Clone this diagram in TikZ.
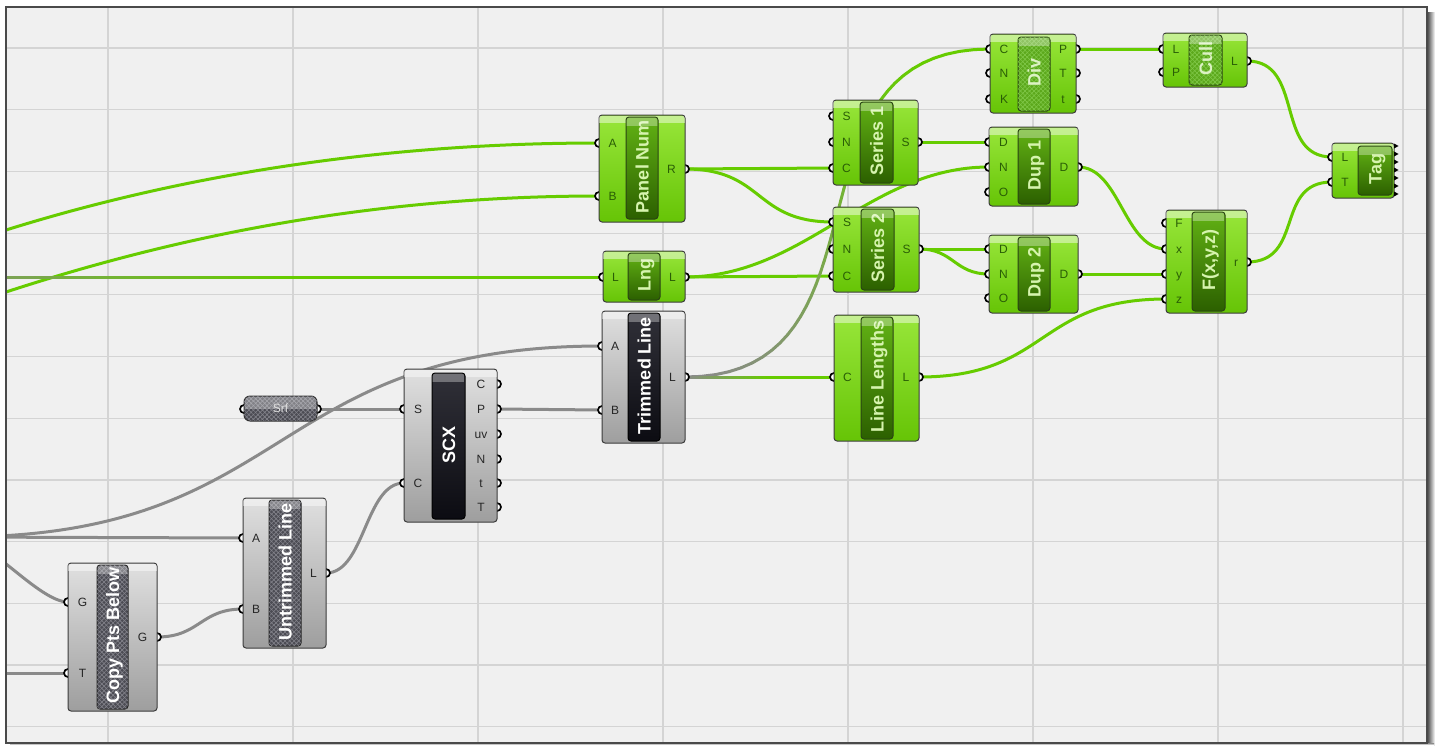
\documentclass[tikz,border=0pt]{standalone}
\usepackage{fontspec}
\setmainfont{Liberation Sans}
\usetikzlibrary{patterns.meta}
\definecolor{bg}{HTML}{F0F0F0}
\definecolor{gridc}{HTML}{D4D4D4}
\definecolor{framec}{HTML}{4A4A4A}
\definecolor{wireg}{HTML}{66CC00}
\definecolor{wiregray}{HTML}{8A8A8A}
\definecolor{gtop}{HTML}{98E63A}
\definecolor{gbot}{HTML}{66C406}
\definecolor{ytop}{HTML}{E0E0E0}
\definecolor{ybot}{HTML}{9E9E9E}
\definecolor{boxline}{HTML}{3C3C3C}
\definecolor{gbtop}{HTML}{62B214}
\definecolor{gbbot}{HTML}{2C6000}
\definecolor{gbline}{HTML}{2A4414}
\definecolor{ktop}{HTML}{303038}
\definecolor{kbot}{HTML}{0C0C12}
\definecolor{hbase}{HTML}{4C4C54}
\definecolor{hline}{HTML}{84848C}
\definecolor{ghbase}{HTML}{5CA81C}
\definecolor{ghline}{HTML}{80C848}
\definecolor{glabc}{HTML}{2A5E06}
\definecolor{ylabc}{HTML}{262626}
\definecolor{gtext}{HTML}{D6F4AE}
\definecolor{hgtext}{HTML}{DCF2C4}
\tikzset{
 wire/.style={line width=3pt,line cap=round},
 gw/.style={wire,draw=wireg},
 yw/.style={wire,draw=wiregray},
 port/.style={circle,draw=black,line width=1.7pt,fill=white,inner sep=0pt,minimum size=8pt},
 compbase/.style={draw=boxline,line width=1pt,rounded corners=3pt,inner sep=0pt},
 boxg/.style={compbase,top color=gtop,bottom color=gbot},
 boxy/.style={compbase,top color=ytop,bottom color=ybot},
 barg/.style={compbase,draw=gbline,top color=gbtop,bottom color=gbbot},
 bark/.style={compbase,draw=black,top color=ktop,bottom color=kbot},
 bary/.style={compbase,draw=black!85,preaction={fill=hbase},
   pattern={Lines[angle=45,distance=3.2pt,line width=0.6pt]},pattern color=hline,
   postaction={pattern={Lines[angle=-45,distance=3.2pt,line width=0.6pt]},pattern color=hline}},
 barh/.style={compbase,draw=gbline,preaction={fill=ghbase},
   pattern={Lines[angle=45,distance=3.2pt,line width=0.6pt]},pattern color=ghline,
   postaction={pattern={Lines[angle=-45,distance=3.2pt,line width=0.6pt]},pattern color=ghline}},
 srfbox/.style={draw=black!80,line width=1pt,rounded corners=6pt,inner sep=0pt,preaction={fill=hbase},
   pattern={Lines[angle=45,distance=3.2pt,line width=0.6pt]},pattern color=hline,
   postaction={pattern={Lines[angle=-45,distance=3.2pt,line width=0.6pt]},pattern color=hline}},
 plab/.style={font=\fontsize{12}{14}\selectfont,inner sep=0pt,text height=8.6pt,text depth=0pt},
 glab/.style={plab,text=glabc},
 ylab/.style={plab,text=ylabc},
 title/.style={font=\bfseries\fontsize{18}{20}\selectfont,rotate=90,inner sep=0pt,text height=13pt,text depth=0pt},
}
\newcommand\band[4]{%
 \begin{scope}\clip[rounded corners=3pt] (#1,#2) rectangle (#3,#4);
 \fill[white,opacity=0.45] (#1,#2+0.6) rectangle (#3,#2+8);\end{scope}}
\newcommand\bartext[7]{%
 \begin{scope}\clip[rounded corners=2.5pt] (#2+0.6,#3+0.6) rectangle (#4-0.6,#5-0.6);
 \node[title,text=#7] (#1) at ({(#2+#4)/2},{(#3+#5)/2-1.5}) {#6};
 \fill[white,opacity=0.32] (#2,#3) rectangle (#4,#3+9);
 \end{scope}}
\newcommand\comp[6]{\node[#2,minimum width={#5-#3},minimum height={#6-#4}] (#1) at ({(#3+#5)/2},{(#4+#6)/2}) {};\band{#3}{#4}{#5}{#6}}
\newcommand\cbar[8]{\node[#2,minimum width={#5-#3},minimum height={#6-#4}] (#1) at ({(#3+#5)/2},{(#4+#6)/2}) {};\bartext{#1-t}{#3}{#4}{#5}{#6}{#7}{#8}}
\newcommand\gradwire[4]{%
 \foreach \k in {0,...,40}{\pgfmathsetmacro\gwtk{\k/40}\path #2 coordinate[pos=\gwtk] (#1\k);}%
 \foreach \k in {0,...,39}{%
   \pgfmathtruncatemacro\gwkn{\k+1}%
   \pgfmathtruncatemacro\gwpc{min(100,#3+(100-#3)*\k/(40*#4))}%
   \draw[wire,draw=wireg!\gwpc!wiregray] (#1\k) -- (#1\gwkn);}}
\begin{document}
\begin{tikzpicture}[x=1pt,y=-1pt]
\useasboundingbox (0,0) rectangle (1437,745);
\fill[white] (0,0) rectangle (1437,745);
\shade[left color=black!65,right color=white] (1428,12) rectangle (1435,745);
\shade[top color=black!45,bottom color=white] (10,743) rectangle (1434,745);
\fill[bg] (6,7) rectangle (1427,743);
% ports
\coordinate (pn-A) at (599,143); \coordinate (pn-B) at (599,196); \coordinate (pn-R) at (685,169);
\coordinate (lng-i) at (603,277); \coordinate (lng-o) at (685,277);
\coordinate (tr-A) at (602,346); \coordinate (tr-B) at (602,410); \coordinate (tr-L) at (685,377);
\coordinate (s1-S) at (833,116); \coordinate (s1-N) at (833,142); \coordinate (s1-C) at (833,168); \coordinate (s1-out) at (918,142);
\coordinate (s2-S) at (833,222); \coordinate (s2-N) at (833,249); \coordinate (s2-C) at (833,276); \coordinate (s2-out) at (919,249);
\coordinate (ll-C) at (834,377); \coordinate (ll-L) at (919,377);
\coordinate (div-C) at (990,49); \coordinate (div-N) at (990,73); \coordinate (div-K) at (990,99);
\coordinate (div-oP) at (1076,49); \coordinate (div-oT) at (1076,73); \coordinate (div-ot) at (1076,99);
\coordinate (d1-D) at (989,142); \coordinate (d1-N) at (989,167); \coordinate (d1-O) at (989,192); \coordinate (d1-out) at (1078,167);
\coordinate (d2-D) at (989,249); \coordinate (d2-N) at (989,274); \coordinate (d2-O) at (989,298); \coordinate (d2-out) at (1078,274);
\coordinate (cull-L) at (1163,49); \coordinate (cull-P) at (1163,72); \coordinate (cull-out) at (1247,61);
\coordinate (f-F) at (1166,223); \coordinate (f-x) at (1166,249); \coordinate (f-y) at (1166,274); \coordinate (f-z) at (1166,299); \coordinate (f-r) at (1247,262);
\coordinate (tag-L) at (1332,157); \coordinate (tag-T) at (1332,182);
\coordinate (scx-S) at (404,409); \coordinate (scx-C) at (404,483);
\coordinate (scx-oC) at (497,384); \coordinate (scx-P) at (497,409); \coordinate (scx-uv) at (497,434);
\coordinate (scx-N) at (497,459); \coordinate (scx-t) at (497,483); \coordinate (scx-T) at (497,507);
\coordinate (srf-i) at (244,409); \coordinate (srf-o) at (317,409);
\coordinate (ut-A) at (243,538); \coordinate (ut-B) at (243,609); \coordinate (ut-L) at (326,573);
\coordinate (cp-G) at (68,602); \coordinate (cp-T) at (68,673); \coordinate (cp-out) at (157,637);
\coordinate (inA) at (6,230); \coordinate (inB) at (6,292); \coordinate (inL) at (6,277);
\coordinate (src) at (-42,537); \coordinate (inT) at (-42,673);
\begin{scope}
\clip (6,7) rectangle (1427,743);
\foreach \x in {108,293,478,663,848,1033,1218,1403} \draw[gridc,line width=1.2pt] (\x,7) -- (\x,743);
\foreach \i in {0,...,11} \draw[gridc,line width=1.2pt] (6,{48+61.7*\i}) -- (1427,{48+61.7*\i});
% gray wires
\draw[yw] (srf-o) -- (scx-S);
\draw[yw] (scx-P) -- (tr-B);
\draw[yw] (src) .. controls +(337,0) and +(-337,0) .. (tr-A);
\draw[yw] (src) -- (ut-A);
\draw[yw] (src) .. controls +(29,0) and +(-29,0) .. (cp-G);
\draw[yw] (inT) -- (cp-T);
\draw[yw] (cp-out) .. controls +(43,0) and +(-43,0) .. (ut-B);
\draw[yw] (ut-L) .. controls +(39,0) and +(-39,0) .. (scx-C);
% green wires
\draw[gw] (inA) .. controls +(144,-45) and +(-249,0) .. (pn-A);
\draw[gw] (inB) .. controls +(144,-47) and +(-249,0) .. (pn-B);
\gradwire{gl}{(inL) -- (lng-i)}{40}{0.45}
\draw[gw] (pn-R) -- (s1-C);
\draw[gw] (pn-R) .. controls +(80,0) and +(-80,0) .. (s2-S);
\draw[gw] (lng-o) -- (s2-C);
\draw[gw] (lng-o) .. controls +(120,0) and +(-120,0) .. (d1-N);
\draw[gw] (s1-out) -- (d1-D);
\gradwire{gt}{(tr-L) .. controls +(220,0) and +(-220,0) .. (div-C)}{0}{0.85}
\gradwire{gm}{(tr-L) -- (ll-C)}{0}{0.55}
\draw[gw] (s2-out) -- (d2-D);
\draw[gw] (s2-out) .. controls +(35,0) and +(-35,0) .. (d2-N);
\draw[gw] (div-oP) -- (cull-L);
\draw[gw] (d1-out) .. controls +(42,0) and +(-42,0) .. (f-x);
\draw[gw] (d2-out) -- (f-y);
\draw[gw] (ll-L) .. controls +(130,0) and +(-130,0) .. (f-z);
\draw[gw] (cull-out) .. controls +(58,0) and +(-58,0) .. (tag-L);
\draw[gw] (f-r) .. controls +(58,0) and +(-58,0) .. (tag-T);
\end{scope}
% port circles
\foreach \p in {pn-A,pn-B,pn-R,lng-i,lng-o,tr-A,tr-B,tr-L,s1-S,s1-N,s1-C,s1-out,s2-S,s2-N,s2-C,s2-out,
  ll-C,ll-L,div-C,div-N,div-K,div-oP,div-oT,div-ot,d1-D,d1-N,d1-O,d1-out,d2-D,d2-N,d2-O,d2-out,
  cull-L,cull-P,cull-out,f-F,f-x,f-y,f-z,f-r,tag-L,tag-T,scx-S,scx-C,scx-oC,scx-P,scx-uv,scx-N,scx-t,scx-T,
  srf-i,srf-o,ut-A,ut-B,ut-L,cp-G,cp-T,cp-out} \node[port] (\p-c) at (\p) {};
% components
\comp{pn}{boxg}{599}{115}{685}{222}
\cbar{pnb}{barg}{626}{117}{658}{219}{Panel Num}{gtext}
\comp{lng}{boxg}{603}{251}{685}{302}
\cbar{lngb}{barg}{628}{253}{660}{300}{Lng}{gtext}
\comp{tr}{boxy}{602}{311}{685}{443}
\cbar{trb}{bark}{628}{313}{660}{441}{Trimmed Line}{white}
\comp{s1}{boxg}{833}{100}{918}{185}
\cbar{s1b}{barg}{860}{102}{893}{183}{Series 1}{gtext}
\comp{s2}{boxg}{833}{207}{919}{292}
\cbar{s2b}{barg}{861}{209}{894}{290}{Series 2}{gtext}
\comp{ll}{boxg}{834}{315}{919}{441}
\cbar{llb}{barg}{861}{317}{893}{439}{Line Lengths}{gtext}
\comp{div}{boxg}{990}{34}{1076}{113}
\cbar{divb}{barh}{1018}{37}{1050}{111}{Div}{hgtext}
\comp{d1}{boxg}{989}{127}{1078}{206}
\cbar{d1b}{barg}{1018}{129}{1050}{204}{Dup 1}{gtext}
\comp{d2}{boxg}{989}{235}{1078}{313}
\cbar{d2b}{barg}{1018}{237}{1050}{311}{Dup 2}{gtext}
\comp{cull}{boxg}{1163}{33}{1247}{87}
\cbar{cullb}{barh}{1189}{35}{1222}{85}{Cull}{hgtext}
\comp{f}{boxg}{1166}{210}{1247}{313}
\cbar{fb}{barg}{1192}{212}{1225}{311}{F(x,y,z)}{gtext}
\comp{tag}{boxg}{1332}{143}{1394}{198}
\cbar{tagb}{barg}{1358}{146}{1392}{195}{Tag}{gtext}
\foreach \yy in {146,154,...,194} \fill[black] (1394,\yy-2.5) -- (1398.5,\yy) -- (1394,\yy+2.5) -- cycle;
\comp{scx}{boxy}{404}{369}{497}{522}
\cbar{scxb}{bark}{432}{373}{465}{519}{SCX}{white}
\comp{ut}{boxy}{243}{498}{326}{648}
\cbar{utb}{bary}{269}{500}{301}{646}{Untrimmed Line}{white}
\comp{cp}{boxy}{68}{563}{157}{711}
\cbar{cpb}{bary}{97}{565}{128}{709}{Copy Pts Below}{white}
% Srf
\node[srfbox,minimum width=73,minimum height=25] (srf) at (280.5,408.5) {};
\begin{scope}\clip[rounded corners=6pt] (244.6,396.6) rectangle (316.4,420.4);
\fill[white,opacity=0.3] (244,396) rectangle (317,408.5);\end{scope}
\node[font=\fontsize{12}{14}\selectfont,text=black!12,inner sep=0pt] (srf-t) at (280.5,408.5) {Srf};
% labels
\node[glab] (pn-A-l) at (612.5,143) {A}; \node[glab] (pn-B-l) at (612.5,196) {B}; \node[glab] (pn-R-l) at (671.5,169) {R};
\node[glab] (lng-i-l) at (615.5,277) {L}; \node[glab] (lng-o-l) at (672.5,277) {L};
\node[glab] (s1-S-l) at (846.5,116) {S}; \node[glab] (s1-N-l) at (846.5,142) {N}; \node[glab] (s1-C-l) at (846.5,168) {C}; \node[glab] (s1-out-l) at (905.5,142) {S};
\node[glab] (s2-S-l) at (847,222) {S}; \node[glab] (s2-N-l) at (847,249) {N}; \node[glab] (s2-C-l) at (847,276) {C}; \node[glab] (s2-out-l) at (906.5,249) {S};
\node[glab] (ll-C-l) at (847.5,377) {C}; \node[glab] (ll-L-l) at (906,377) {L};
\node[glab] (div-C-l) at (1004,49) {C}; \node[glab] (div-N-l) at (1004,73) {N}; \node[glab] (div-K-l) at (1004,99) {K};
\node[glab] (div-oP-l) at (1063,49) {P}; \node[glab] (div-oT-l) at (1063,73) {T}; \node[glab] (div-ot-l) at (1063,99) {t};
\node[glab] (d1-D-l) at (1003.5,142) {D}; \node[glab] (d1-N-l) at (1003.5,167) {N}; \node[glab] (d1-O-l) at (1003.5,192) {O}; \node[glab] (d1-out-l) at (1064,167) {D};
\node[glab] (d2-D-l) at (1003.5,249) {D}; \node[glab] (d2-N-l) at (1003.5,274) {N}; \node[glab] (d2-O-l) at (1003.5,298) {O}; \node[glab] (d2-out-l) at (1064,274) {D};
\node[glab] (cull-L-l) at (1176,49) {L}; \node[glab] (cull-P-l) at (1176,72) {P}; \node[glab] (cull-out-l) at (1234.5,61) {L};
\node[glab] (f-F-l) at (1179,223) {F}; \node[glab] (f-x-l) at (1179,249) {x}; \node[glab] (f-y-l) at (1179,274) {y}; \node[glab] (f-z-l) at (1179,299) {z}; \node[glab] (f-r-l) at (1236,262) {r};
\node[glab] (tag-L-l) at (1345,157) {L}; \node[glab] (tag-T-l) at (1345,182) {T};
\node[ylab] (tr-A-l) at (615,346) {A}; \node[ylab] (tr-B-l) at (615,410) {B}; \node[ylab] (tr-L-l) at (672.5,377) {L};
\node[ylab] (scx-S-l) at (418,409) {S}; \node[ylab] (scx-C-l) at (418,483) {C};
\node[ylab] (scx-oC-l) at (481,384) {C}; \node[ylab] (scx-P-l) at (481,409) {P}; \node[ylab] (scx-uv-l) at (481,434) {uv};
\node[ylab] (scx-N-l) at (481,459) {N}; \node[ylab] (scx-t-l) at (481,483) {t}; \node[ylab] (scx-T-l) at (481,507) {T};
\node[ylab] (ut-A-l) at (256,538) {A}; \node[ylab] (ut-B-l) at (256,609) {B}; \node[ylab] (ut-L-l) at (313.5,573) {L};
\node[ylab] (cp-G-l) at (82.5,602) {G}; \node[ylab] (cp-T-l) at (82.5,673) {T}; \node[ylab] (cp-out-l) at (142.5,637) {G};
\draw[framec,line width=1.5pt] (6,7) rectangle (1427,743);
\end{tikzpicture}
\end{document}
